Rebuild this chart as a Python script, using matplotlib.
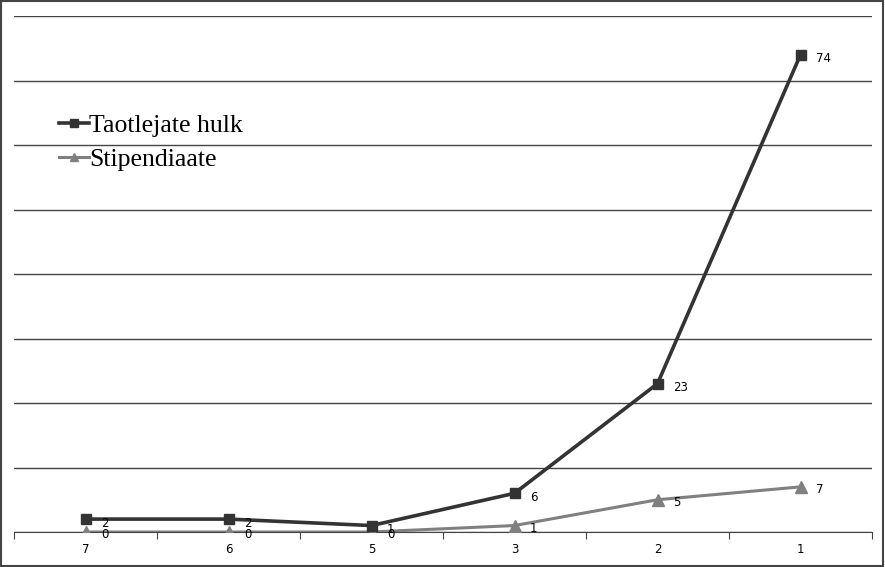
import matplotlib.pyplot as plt
from matplotlib.patches import Rectangle

categories = ['7', '6', '5', '3', '2', '1']
taotlejad = [2, 2, 1, 6, 23, 74]
stipendiaadid = [0, 0, 0, 1, 5, 7]

fig = plt.figure(figsize=(8.85, 5.67), dpi=100)
ax = fig.add_axes([14 / 885, 1 - 532 / 567, (872 - 14) / 885, (532 - 16) / 567])

x = list(range(len(categories)))
ax.plot(x, taotlejad, color='#333333', lw=2.6, marker='s', ms=7.5,
        label='Taotlejate hulk', zorder=4)
ax.plot(x, stipendiaadid, color='#808080', lw=2.2, marker='^', ms=8.5,
        label='Stipendiaate', zorder=3)

for xi, v in zip(x, taotlejad):
    ax.annotate(str(v), (xi, v), xytext=(11, -3), textcoords='offset points',
                fontsize=8.5, va='center', ha='left', color='black', zorder=5)
for xi, v in zip(x, stipendiaadid):
    ax.annotate(str(v), (xi, v), xytext=(11, -2), textcoords='offset points',
                fontsize=8.5, va='center', ha='left', color='black', zorder=5)

ax.set_xlim(-0.5, len(categories) - 0.5)
ax.set_ylim(0, 80)
ax.set_yticks(range(0, 81, 10))
ax.yaxis.grid(True, color='#444444', lw=1)
ax.set_axisbelow(True)
ax.tick_params(axis='y', left=False, labelleft=False)

ax.set_xticks([i - 0.5 for i in range(len(categories) + 1)])
ax.set_xticklabels([])
ax.set_xticks(x, minor=True)
ax.set_xticklabels(categories, minor=True, fontsize=8.5)
ax.tick_params(axis='x', which='major', length=5, color='#444444', direction='out')
ax.tick_params(axis='x', which='minor', length=0, pad=8)

for s in ['top', 'left', 'right']:
    ax.spines[s].set_visible(False)
ax.spines['bottom'].set_color('#444444')
ax.spines['bottom'].set_zorder(2)

leg = ax.legend(loc='upper left', bbox_to_anchor=(0.04, 0.83), frameon=False,
                prop={'family': 'Liberation Serif', 'size': 18.5},
                handlelength=1.2, handletextpad=0.0, labelspacing=0.42,
                borderaxespad=0, markerscale=0.75)

fig.patches.append(Rectangle((0.001, 0.002), 0.997, 0.996, transform=fig.transFigure,
                             fill=False, edgecolor='#444444', lw=1.5))

fig.savefig('out.png', dpi=100)
